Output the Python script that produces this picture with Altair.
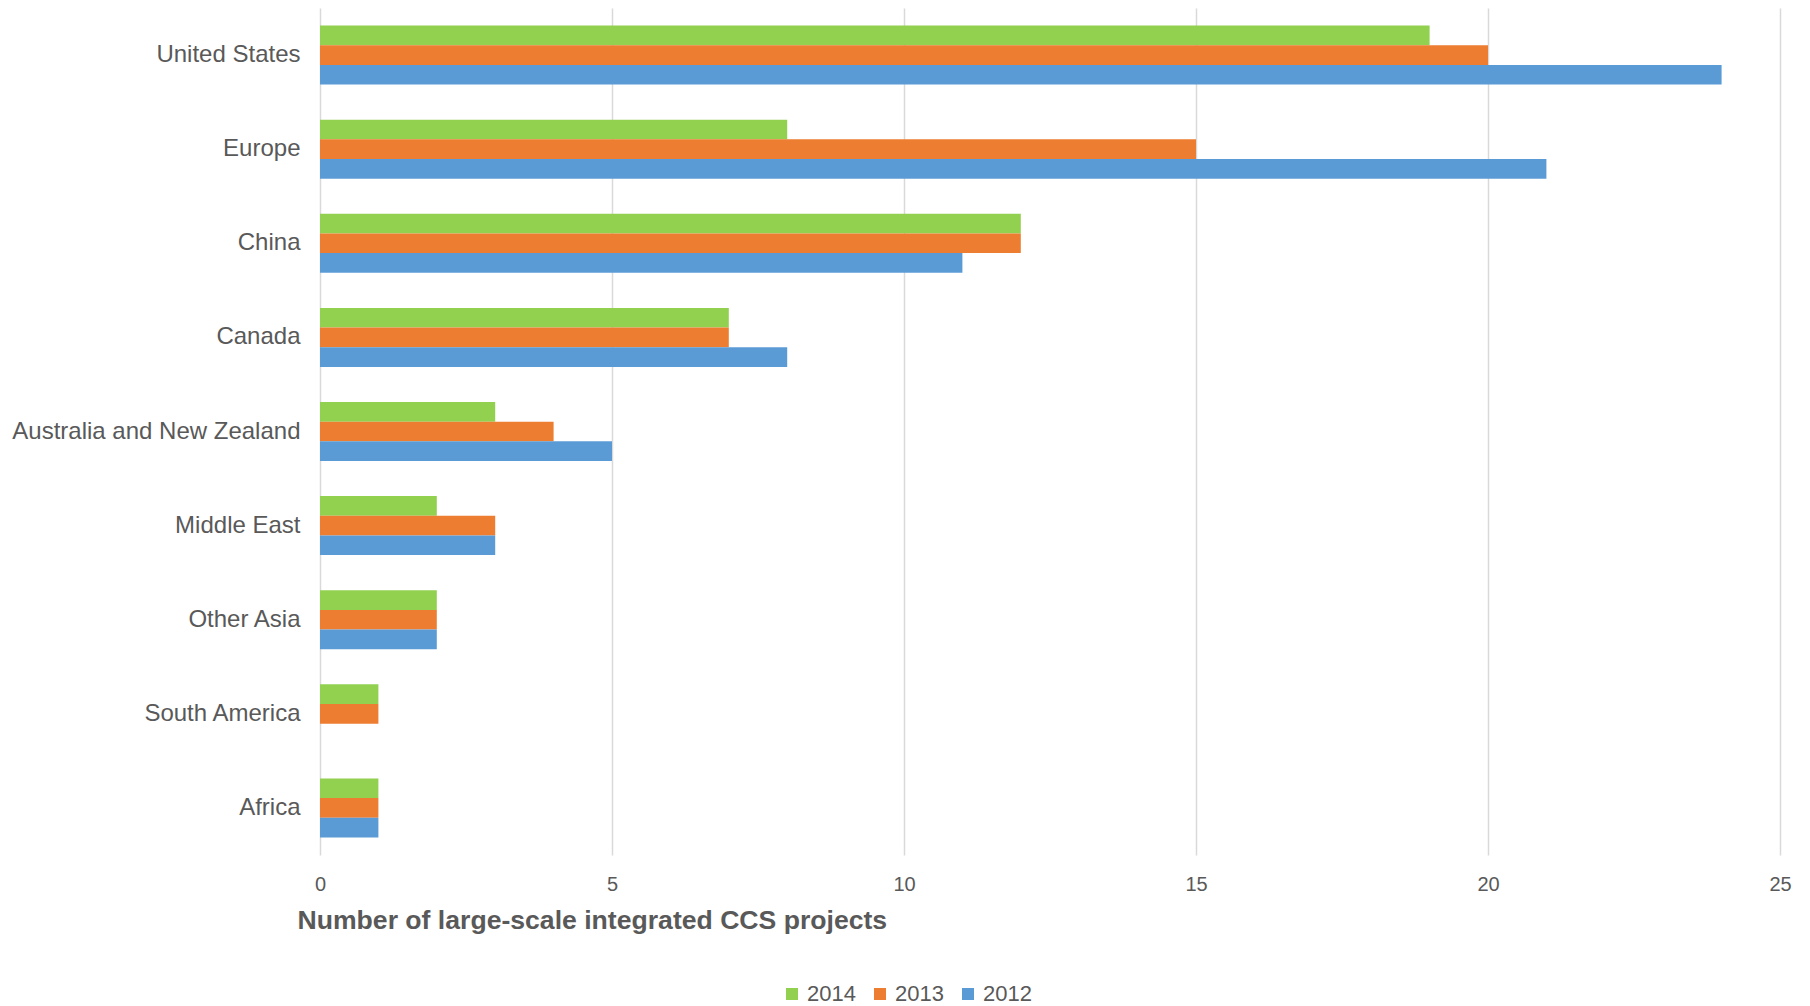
import altair as alt
import pandas as pd

regions = ["United States", "Europe", "China", "Canada", "Australia and New Zealand",
           "Middle East", "Other Asia", "South America", "Africa"]
years = ["2014", "2013", "2012"]
v2014 = [19, 8, 12, 7, 3, 2, 2, 1, 1]
v2013 = [20, 15, 12, 7, 4, 3, 2, 1, 1]
v2012 = [24, 21, 11, 8, 5, 3, 2, 0, 1]
colors = ["#92D050", "#ED7D31", "#5B9BD5"]

rows = []
for i, r in enumerate(regions):
    for y, vals in zip(years, [v2014, v2013, v2012]):
        rows.append({"region": r, "year": y, "value": vals[i]})
df = pd.DataFrame(rows)

font = "Liberation Sans"
grey = "#595959"

chart = alt.Chart(df).mark_bar(strokeWidth=0).encode(
    y=alt.Y("region:N", sort=regions,
            scale=alt.Scale(paddingInner=0.373, paddingOuter=0.1865),
            axis=alt.Axis(title=None, ticks=False, domain=False, labelFontSize=24,
                          labelColor=grey, labelFont=font, labelPadding=20, grid=False,
                          labelLimit=0)),
    yOffset=alt.YOffset("year:N", sort=years, scale=alt.Scale(domain=years)),
    x=alt.X("value:Q", scale=alt.Scale(domain=[0, 25], nice=False),
            axis=alt.Axis(values=[0, 5, 10, 15, 20, 25], title="Number of large-scale integrated CCS projects",
                          titleFontSize=26.6, titleFont=font, titleColor=grey, titleFontWeight="bold",
                          titleAnchor="start", titleAlign="left", titleX=-23, titlePadding=13,
                          labelFontSize=20, labelFont=font, labelColor=grey, labelPadding=19,
                          labelFlush=False,
                          ticks=False, domain=False, grid=True, gridColor="#D9D9D9", gridWidth=1.5)),
    color=alt.Color("year:N", sort=years,
                    scale=alt.Scale(domain=years, range=colors),
                    legend=alt.Legend(title=None, orient="none", direction="horizontal",
                                      legendX=461, legendY=975, symbolType="square",
                                      symbolSize=144, symbolStrokeWidth=0, labelFontSize=22,
                                      labelFont=font, labelColor=grey, labelOffset=4,
                                      columnPadding=13)),
).properties(
    width=1460, height=847,
    autosize=alt.AutoSizeParams(type="none"),
    padding={"left": 312, "top": 0, "right": 22, "bottom": 150},
).configure_view(stroke=None)

chart.save("out.html", embed_options={"renderer": "svg", "actions": False})
